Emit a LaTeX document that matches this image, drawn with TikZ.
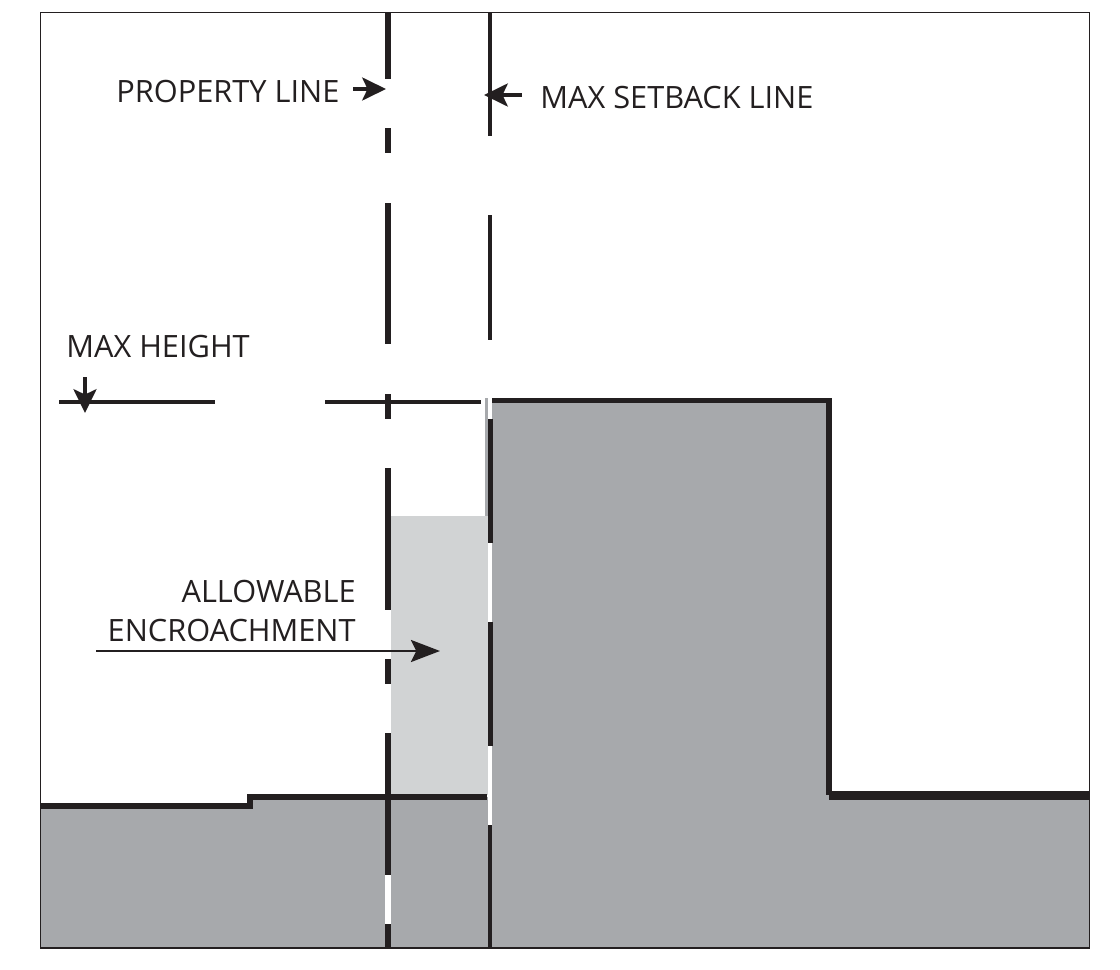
\documentclass[tikz,border=0pt]{standalone}
\usepackage{fontspec}
\setmainfont{Open Sans}
\usetikzlibrary{arrows.meta}
\tikzset{
    label text/.style={inner sep=0pt, font=\fontsize{17.5}{21}\selectfont, text=inkblack},
    pointer/.style={line width=2.3pt, inkblack, -{Stealth[length=13.5pt,width=13pt,inset=3pt]}},
    long pointer/.style={line width=1.6pt, inkblack, -{Stealth[length=16.5pt,width=12.5pt,inset=3pt]}},
}
\definecolor{inkblack}{HTML}{231F20}
\definecolor{darkfill}{HTML}{A7A9AC}
\definecolor{lightfill}{HTML}{D1D3D4}
\begin{document}
\begin{tikzpicture}[x=0.02cm,y=-0.02cm]
    \useasboundingbox (0,0) rectangle (1120,970);
    % ground and building
    \fill[darkfill] (40.5,806)--(250,806)--(250,797)--(490,797)--(490,400)--(829,400)--(829,795)--(1089.5,795)--(1089.5,948)--(40.5,948)--cycle;
    \fill[darkfill] (484.5,398) rectangle (488,516);
    \fill[lightfill] (391,516) rectangle (488,795);
    \draw[inkblack, line width=3.4pt] (40.5,806)--(250,806)--(250,797)--(487,797);
    \draw[inkblack, line width=3pt] (492,400.5)--(829,400.5)--(829,795);
    \draw[inkblack, line width=5.1pt] (829,795.5)--(1089.5,795.5);
    % property line
    \foreach \ya/\yb in {12/79,128/153,203/344,394/419,468/610,659/684,733/875,924/948}
        \draw[inkblack, line width=3.4pt] (388,\ya)--(388,\yb);
    \foreach \ya/\yb in {610/659,684/733,875/924}
        \draw[white, line width=3.4pt] (388,\ya)--(388,\yb);
    % max setback line
    \foreach \ya/\yb in {12/136,215/340,825/948}
        \draw[inkblack, line width=2.4pt] (490,\ya)--(490,\yb);
    \foreach \ya/\yb in {419/543,622/746}
        \draw[inkblack, line width=3.4pt] (490.5,\ya)--(490.5,\yb);
    \foreach \ya/\yb in {394/419,543/622,746/825}
        \draw[white, line width=2.4pt] (490,\ya)--(490,\yb);
    % max height line
    \draw[inkblack, line width=2.4pt] (59,402)--(215,402);
    \draw[inkblack, line width=2.4pt] (325,402)--(481,402);
    % labels
    \node[label text, anchor=west] (propertylabel) at (116,92) {PROPERTY LINE};
    \node[label text, anchor=west] (setbacklabel) at (540,98) {MAX SETBACK LINE};
    \node[label text, anchor=west] (heightlabel) at (66,347) {MAX HEIGHT};
    \node[label text, anchor=east] (allowablelabel) at (356,591) {ALLOWABLE};
    \node[label text, anchor=east] (encroachlabel) at (356,630) {ENCROACHMENT};
    \coordinate (propertystart) at (353,89);
    \coordinate (propertytip) at (386,89);
    \coordinate (setbackstart) at (522,95);
    \coordinate (setbacktip) at (484,95);
    \coordinate (heightstart) at (85,377);
    \coordinate (heighttip) at (85,413);
    \coordinate (encroachstart) at (96,651);
    \coordinate (encroachtip) at (440,651);
    \draw[pointer] (propertystart)--(propertytip);
    \draw[pointer] (setbackstart)--(setbacktip);
    \draw[pointer] (heightstart)--(heighttip);
    \draw[long pointer] (encroachstart)--(encroachtip);
    % frame
    \draw[inkblack, line width=0.6pt] (40.5,12.5) rectangle (1089.5,948);
\end{tikzpicture}
\end{document}
